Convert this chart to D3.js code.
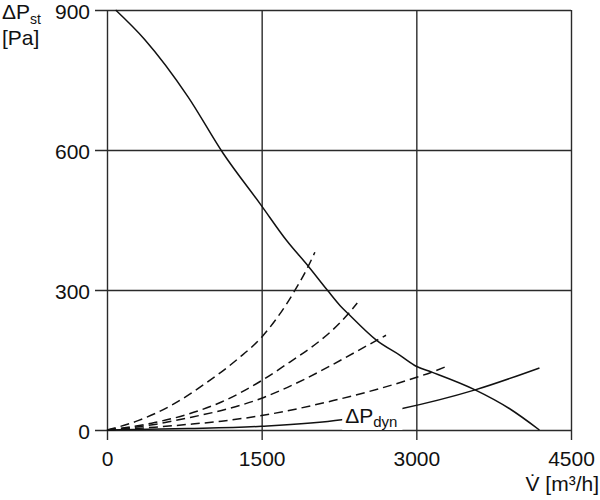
<!DOCTYPE html>
<html>
<head>
<meta charset="utf-8">
<script src="https://cdnjs.cloudflare.com/ajax/libs/d3/7.8.5/d3.min.js"></script>
<style>
  body { margin: 0; background: white; }
  text { font-family: "Liberation Sans", Arial, sans-serif; fill: #111; }
</style>
</head>
<body>
<div id="chart"></div>
<script>
// ticks
var flowTicks = [0, 1500, 3000, 4500];
var pressTicks = [0, 300, 600, 900];

// fan curve (static pressure)
var fanFlow = [84, 365, 786, 1126, 1494, 1742, 1952, 2136, 2259, 2340, 2615, 2842, 3004, 3150, 3570, 3909, 4194];
var fanPress = [900, 837, 714, 593, 482, 406, 351, 300, 267, 249, 192, 160, 136, 124, 86, 45, 0];

// system curves (dashed)
var sys1Flow = [0, 301, 625, 949, 1272, 1500, 1822, 1952, 2016];
var sys1Press = [0, 20, 53, 99, 153, 199, 299, 351, 381];
var sys2Flow = [0, 462, 787, 1110, 1500, 1675, 2340, 2427];
var sys2Press = [0, 16, 34, 60, 106, 131, 249, 272];
var sys3Flow = [0, 462, 787, 1110, 1500, 1675, 2615, 2706];
var sys3Press = [0, 12, 26, 42, 68, 84, 192, 203];
var sys4Flow = [0, 462, 787, 1110, 1500, 2194, 3004, 3150, 3278];
var sys4Press = [0, 6, 12, 19, 31, 63, 113, 124, 135];

// dynamic pressure
var dynFlow = [0, 787, 1500, 2276, 2842, 3570, 4194];
var dynPress = [0, 3, 8, 22, 45, 86, 133];

var svgWidth = 600;
var svgHeight = 500;

var svg = d3.select("#chart")
  .append("svg")
  .attr("width", svgWidth)
  .attr("height", svgHeight);

svg.append("rect")
  .attr("width", svgWidth)
  .attr("height", svgHeight)
  .attr("fill", "white");

var x = d3.scaleLinear().domain([0, 4500]).range([107, 571]);
var y = d3.scaleLinear().domain([0, 900]).range([430, 10]);

// grid + tick labels, drawn through the axes
var yAxis = svg.append("g")
  .attr("transform", "translate(571,0)")
  .call(d3.axisLeft(y).tickValues(pressTicks).tickSize(476).tickPadding(5).tickFormat(d3.format("d")));

svg.append("g")
  .attr("transform", "translate(0,10)")
  .call(d3.axisBottom(x).tickValues(flowTicks).tickSize(430).tickPadding(11).tickFormat(d3.format("d")));

svg.selectAll(".domain").remove();
svg.selectAll(".tick line")
  .attr("stroke", "#2a2a2a")
  .attr("stroke-width", 1.4);
svg.selectAll(".tick text")
  .attr("font-size", "21px")
  .attr("font-family", "Liberation Sans, Arial, sans-serif")
  .attr("fill", "#111");
// keep the top label inside the frame
yAxis.selectAll(".tick text").attr("dy", "0.4em");

function zip(xs, ys) {
  return xs.map(function(v, i) { return [v, ys[i]]; });
}

var line = d3.line()
  .x(function(d) { return x(d[0]); })
  .y(function(d) { return y(d[1]); })
  .curve(d3.curveMonotoneX);

var dashed = [zip(sys1Flow, sys1Press), zip(sys2Flow, sys2Press), zip(sys3Flow, sys3Press), zip(sys4Flow, sys4Press)];

svg.selectAll(".sys")
  .data(dashed)
  .enter()
  .append("path")
  .attr("class", "sys")
  .attr("d", line)
  .attr("fill", "none")
  .attr("stroke", "#111")
  .attr("stroke-width", 1.5)
  .attr("stroke-dasharray", "9,5");

svg.append("path")
  .attr("d", line(zip(dynFlow, dynPress)))
  .attr("fill", "none")
  .attr("stroke", "#111")
  .attr("stroke-width", 1.5);

svg.append("path")
  .attr("d", line(zip(fanFlow, fanPress)))
  .attr("fill", "none")
  .attr("stroke", "#111")
  .attr("stroke-width", 1.5);

// dyn label with white gap behind it
var dynLabel = svg.append("text")
  .attr("x", x(2310))
  .attr("y", 423)
  .attr("font-size", "21px");
dynLabel.append("tspan").text("ΔP");
dynLabel.append("tspan").attr("font-size", "15px").attr("dy", 4).text("dyn");

var bb = dynLabel.node().getBBox();
svg.insert("rect", function() { return dynLabel.node(); })
  .attr("x", bb.x - 3)
  .attr("y", bb.y + 2)
  .attr("width", bb.width + 8)
  .attr("height", bb.height - 2)
  .attr("fill", "white");

// axis titles
var yTitle = svg.append("text")
  .attr("x", 2)
  .attr("y", 19)
  .attr("font-size", "21px");
yTitle.append("tspan").text("ΔP");
yTitle.append("tspan").attr("font-size", "14px").attr("dy", 5).text("st");

svg.append("text")
  .attr("x", 2)
  .attr("y", 45)
  .attr("font-size", "21px")
  .text("[Pa]");

svg.append("text")
  .attr("x", 599)
  .attr("y", 491)
  .attr("text-anchor", "end")
  .attr("font-size", "21px")
  .text("V\u0307 [m³/h]");
</script>
</body>
</html>
